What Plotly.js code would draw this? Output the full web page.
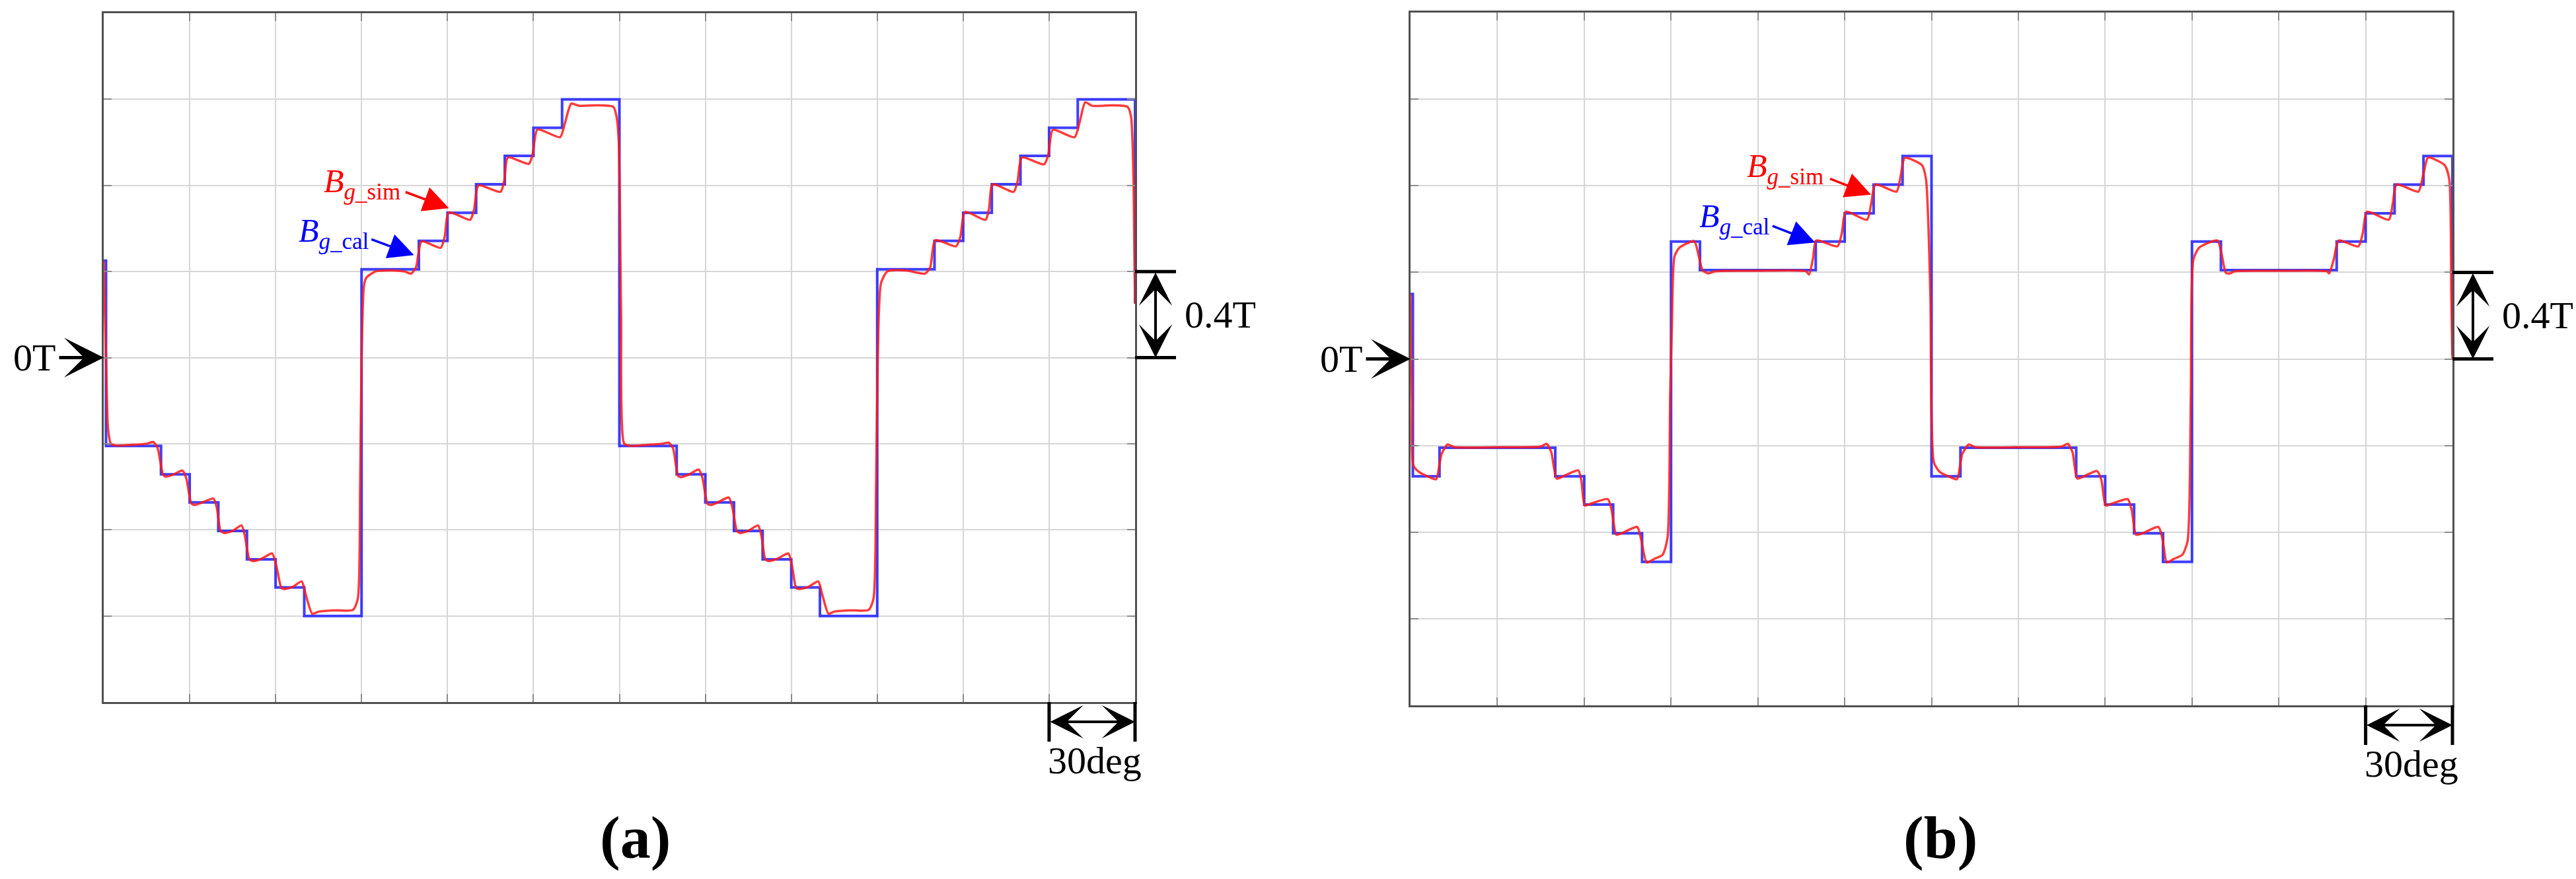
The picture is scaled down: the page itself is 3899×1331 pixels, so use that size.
<!DOCTYPE html>
<html>
<head>
<meta charset="utf-8">
<script src="https://cdn.plot.ly/plotly-3.0.1.min.js"></script>
<style>
body { margin: 0; background: #fff; overflow: hidden; }
#chart { width: 3899px; height: 1331px; }
</style>
</head>
<body>
<div id="chart"></div>
<script>
// (a) calculated air-gap flux density (step levels, drawn as hv steps)
var cal_a_x = [0, 0.8, 20, 30, 40, 50, 60, 70, 90, 110, 120, 130, 140, 150, 160, 180, 200, 210, 220, 230, 240, 250, 270, 290, 300, 310, 320, 330, 340, 360];
var cal_a_y = [0.45, -0.41, -0.542, -0.673, -0.805, -0.937, -1.068, -1.2, 0.41, 0.542, 0.673, 0.805, 0.937, 1.068, 1.2, -0.41, -0.542, -0.673, -0.805, -0.937, -1.068, -1.2, 0.41, 0.542, 0.673, 0.805, 0.937, 1.068, 1.2, 0.25];

// (a) simulated air-gap flux density
var sim_a_x = [0, 0.8, 1.5, 2.5, 4, 10, 15, 17.3, 18.8, 20.6, 21.5, 24, 27.5, 28.8, 30.5, 31.5, 34, 38.3, 39.5, 40.8, 42, 45, 48.1, 49.3, 50.8, 52, 55, 58.8, 60.3, 62, 63, 66, 69.1, 70.5, 72.8, 75, 80, 87, 88.7, 89.5, 90, 90.8, 91.6, 94.8, 100, 105, 107.3, 109, 111, 117.6, 119, 120.5, 127.9, 129.3, 130.8, 138.5, 139.8, 141.1, 148.4, 149.8, 151.4, 159.3, 161, 163.2, 166, 172, 177.9, 179, 179.8, 180.6, 181.7, 184, 190, 195, 197.2, 198.7, 200.5, 201.5, 204, 207.7, 209, 210.8, 212, 214, 218.2, 219.5, 221, 222, 225, 228.4, 229.6, 230.9, 232, 235, 239, 240.3, 241.7, 243, 246, 249.4, 250.8, 253, 255, 260, 267, 268.7, 269.6, 270.2, 271.3, 273.5, 280, 286.7, 288.5, 290.3, 297.5, 299, 300.7, 307.8, 309, 310.3, 317.6, 319, 320.5, 328.3, 329.8, 331.3, 338.9, 340.6, 342.6, 345, 352, 357.4, 358.6, 359.5, 360];
var sim_a_y = [0.45, 0.0, -0.33, -0.40, -0.408, -0.405, -0.400, -0.392, -0.42, -0.54, -0.553, -0.545, -0.525, -0.56, -0.675, -0.685, -0.675, -0.655, -0.70, -0.805, -0.815, -0.805, -0.78, -0.83, -0.935, -0.945, -0.935, -0.91, -0.97, -1.07, -1.075, -1.065, -1.04, -1.10, -1.19, -1.18, -1.174, -1.172, -1.12, -0.6, 0.0, 0.33, 0.37, 0.40, 0.405, 0.40, 0.39, 0.42, 0.54, 0.51, 0.56, 0.675, 0.64, 0.69, 0.80, 0.77, 0.82, 0.93, 0.90, 0.95, 1.06, 1.024, 1.09, 1.18, 1.17, 1.172, 1.165, 1.12, 1.0, 0.2, -0.40, -0.41, -0.405, -0.40, -0.395, -0.42, -0.55, -0.555, -0.545, -0.52, -0.56, -0.68, -0.685, -0.675, -0.65, -0.70, -0.805, -0.815, -0.805, -0.78, -0.83, -0.935, -0.945, -0.935, -0.91, -0.97, -1.07, -1.075, -1.065, -1.04, -1.10, -1.19, -1.18, -1.174, -1.172, -1.12, -0.6, 0.0, 0.345, 0.40, 0.405, 0.39, 0.42, 0.545, 0.517, 0.56, 0.677, 0.64, 0.69, 0.805, 0.77, 0.82, 0.93, 0.898, 0.95, 1.058, 1.024, 1.09, 1.186, 1.17, 1.172, 1.165, 1.12, 0.8, 0.25];

// (b) calculated
var cal_b_x = [0, 0.8, 10, 50, 60, 70, 80, 90, 100, 140, 150, 160, 170, 180, 190, 230, 240, 250, 260, 270, 280, 320, 330, 340, 350, 360];
var cal_b_y = [0.3, -0.542, -0.41, -0.542, -0.673, -0.805, -0.937, 0.542, 0.41, 0.542, 0.673, 0.805, 0.937, -0.542, -0.41, -0.542, -0.673, -0.805, -0.937, 0.542, 0.41, 0.542, 0.673, 0.805, 0.937, 0.02];

// (b) simulated
var sim_b_x = [0, 0.5, 0.9, 2.7, 6.3, 8.8, 10.7, 12.8, 15, 30, 44.9, 47, 48.6, 50.5, 53, 56.5, 58, 59, 60.2, 62, 68.2, 69.5, 71.1, 73, 78.3, 79.6, 81.6, 84, 87.1, 88.8, 89.7, 90.3, 91.2, 92.9, 98, 99.5, 100.9, 102.9, 105.3, 120, 136.6, 137.7, 139, 140.2, 147.5, 149, 150.4, 157.7, 159.2, 160.6, 167.9, 169.4, 170.8, 176.7, 178.1, 179.6, 180.8, 182.7, 186.3, 188.8, 190.6, 192.9, 195, 210, 224.9, 227.1, 228.7, 230.4, 233, 237.2, 238.7, 240.2, 242, 247.8, 249.2, 250.7, 253, 258.4, 259.8, 261.3, 263.5, 266.7, 268.5, 269.6, 270.5, 272.5, 278.8, 280.3, 281.7, 283.1, 284.8, 300, 316.6, 317.4, 319, 320.7, 327.5, 329, 330.5, 338, 339.4, 340.7, 348.2, 349.9, 351.6, 357.3, 358.9, 359.6, 360];
var sim_b_y = [0.3, -0.2, -0.49, -0.52, -0.545, -0.556, -0.44, -0.395, -0.407, -0.408, -0.405, -0.392, -0.43, -0.553, -0.54, -0.52, -0.515, -0.56, -0.677, -0.67, -0.648, -0.70, -0.812, -0.805, -0.776, -0.83, -0.94, -0.925, -0.904, -0.826, -0.17, 0.16, 0.474, 0.514, 0.544, 0.48, 0.41, 0.395, 0.405, 0.407, 0.405, 0.39, 0.46, 0.547, 0.52, 0.58, 0.68, 0.643, 0.72, 0.806, 0.773, 0.85, 0.929, 0.895, 0.83, 0.3, -0.477, -0.52, -0.545, -0.556, -0.44, -0.395, -0.407, -0.408, -0.405, -0.392, -0.43, -0.553, -0.54, -0.518, -0.56, -0.677, -0.67, -0.648, -0.70, -0.812, -0.805, -0.776, -0.83, -0.94, -0.925, -0.904, -0.84, -0.17, 0.46, 0.514, 0.547, 0.48, 0.398, 0.395, 0.405, 0.407, 0.405, 0.395, 0.46, 0.547, 0.52, 0.58, 0.68, 0.643, 0.72, 0.806, 0.773, 0.85, 0.93, 0.895, 0.83, 0.3, 0.0];

var W = 3899, H = 1331;
var x_range = [0, 360], y_range = [-1.6, 1.6];
var dom_a_x = [157 / W, 1718 / W], dom_a_y = [1 - 1063 / H, 1 - 20 / H];
var dom_b_x = [2135 / W, 3712 / W], dom_b_y = [1 - 1068 / H, 1 - 19 / H];

var cal_color = 'rgba(15,15,255,0.8)';
var sim_color = 'rgba(255,25,25,0.85)';
var black = '#000';
var serif = 'Liberation Serif, Times New Roman, serif';

function px(dom, v) { return dom[0] + (v - x_range[0]) / (x_range[1] - x_range[0]) * (dom[1] - dom[0]); }
function py(dom, v) { return dom[0] + (v - y_range[0]) / (y_range[1] - y_range[0]) * (dom[1] - dom[0]); }

function axis(dom, range, dtick, anchor) {
	return {
		domain: dom,
		range: range,
		anchor: anchor,
		dtick: dtick,
		tick0: 0,
		showgrid: true,
		gridcolor: '#d6d6d6',
		gridwidth: 2,
		zeroline: false,
		showline: true,
		linecolor: '#505050',
		linewidth: 3,
		mirror: 'ticks',
		ticks: 'inside',
		ticklen: 12,
		tickwidth: 2,
		tickcolor: '#8c8c8c',
		showticklabels: false,
		fixedrange: true
	};
}

var shapes = [];
var annotations = [];

function decorate(dx, dy, xa, ya, label, label_x, lab) {
	var y0 = py(dy, 0), y4 = py(dy, 0.4);
	// 0.4T bracket
	shapes.push({type: 'line', xref: 'paper', yref: 'paper', x0: dx[1], x1: dx[1] + 62 / W, y0: y4, y1: y4, line: {color: black, width: 5}});
	shapes.push({type: 'line', xref: 'paper', yref: 'paper', x0: dx[1], x1: dx[1] + 62 / W, y0: y0, y1: y0, line: {color: black, width: 5}});
	annotations.push({xref: 'paper', yref: 'paper', x: dx[1] + 31 / W, y: y0, axref: 'pixel', ayref: 'pixel', ax: 0, ay: -(y4 - y0) * H,
		text: '', showarrow: true, arrowhead: 3, startarrowhead: 3, arrowside: 'end+start', arrowsize: 2.1, startarrowsize: 2.1, arrowwidth: 4, arrowcolor: black});
	annotations.push({xref: 'paper', yref: 'paper', x: dx[1] + 129 / W, y: py(dy, 0.2), text: '0.4T', showarrow: false,
		font: {size: 58, color: black, family: serif}, xanchor: 'center', yanchor: 'middle'});

	// 30deg bracket
	var x330 = px(dx, 330), x360 = px(dx, 360);
	shapes.push({type: 'line', xref: 'paper', yref: 'paper', x0: x330, x1: x330, y0: dy[0], y1: dy[0] - 60 / H, line: {color: black, width: 5}});
	shapes.push({type: 'line', xref: 'paper', yref: 'paper', x0: x360, x1: x360, y0: dy[0], y1: dy[0] - 60 / H, line: {color: black, width: 5}});
	annotations.push({xref: 'paper', yref: 'paper', x: x360, y: dy[0] - 30 / H, axref: 'pixel', ayref: 'pixel', ax: -(x360 - x330) * W, ay: 0,
		text: '', showarrow: true, arrowhead: 3, startarrowhead: 3, arrowside: 'end+start', arrowsize: 2.1, startarrowsize: 2.1, arrowwidth: 4, arrowcolor: black});
	annotations.push({xref: 'paper', yref: 'paper', x: px(dx, 345) + 4 / W, y: dy[0] - 88 / H, text: '30deg', showarrow: false,
		font: {size: 58, color: black, family: serif}, xanchor: 'center', yanchor: 'middle'});

	// 0T marker
	annotations.push({xref: 'paper', yref: 'paper', x: dx[0], y: y0, axref: 'pixel', ayref: 'pixel', ax: -69, ay: 0,
		text: '', showarrow: true, arrowhead: 3, arrowsize: 2, arrowwidth: 5, arrowcolor: black});
	annotations.push({xref: 'paper', yref: 'paper', x: dx[0] - 105 / W, y: y0, text: '0T', showarrow: false,
		font: {size: 58, color: black, family: serif}, xanchor: 'center', yanchor: 'middle'});

	// panel label
	annotations.push({xref: 'paper', yref: 'paper', x: label_x / W, y: 1 - 1268 / H, text: '<b>' + label + '</b>', showarrow: false,
		font: {size: 92, color: black, family: serif}, xanchor: 'center', yanchor: 'middle'});

	// curve labels and pointers
	annotations.push({xref: xa, yref: ya, x: lab.sim_text[0], y: lab.sim_text[1], text: '<i>B</i><sub><i>g</i>_sim</sub>', showarrow: false,
		font: {size: 50, color: '#ff0000', family: serif}, xanchor: 'left', yanchor: 'middle'});
	annotations.push({xref: xa, yref: ya, x: lab.cal_text[0], y: lab.cal_text[1], text: '<i>B</i><sub><i>g</i>_cal</sub>', showarrow: false,
		font: {size: 50, color: '#0000ff', family: serif}, xanchor: 'left', yanchor: 'middle'});
	annotations.push({xref: xa, yref: ya, axref: xa, ayref: ya, x: lab.sim_tip[0], y: lab.sim_tip[1], ax: lab.sim_tail[0], ay: lab.sim_tail[1],
		text: '', showarrow: true, arrowhead: 2, arrowsize: 2.2, arrowwidth: 3.5, arrowcolor: '#ff0000'});
	annotations.push({xref: xa, yref: ya, axref: xa, ayref: ya, x: lab.cal_tip[0], y: lab.cal_tip[1], ax: lab.cal_tail[0], ay: lab.cal_tail[1],
		text: '', showarrow: true, arrowhead: 2, arrowsize: 2.2, arrowwidth: 3.5, arrowcolor: '#0000ff'});
}

decorate(dom_a_x, dom_a_y, 'x', 'y', '(a)', 961, {
	sim_text: [76.3, 0.808], cal_text: [67.6, 0.577],
	sim_tip: [120.5, 0.694], sim_tail: [105, 0.771],
	cal_tip: [108.3, 0.476], cal_tail: [93.1, 0.551]
});
decorate(dom_b_x, dom_b_y, 'x2', 'y2', '(b)', 2937, {
	sim_text: [115.7, 0.88], cal_text: [99.3, 0.648],
	sim_tip: [159.1, 0.759], sim_tail: [144.6, 0.834],
	cal_tip: [139.8, 0.538], cal_tail: [124.7, 0.616]
});

var data = [
	{x: cal_a_x, y: cal_a_y, xaxis: 'x', yaxis: 'y', mode: 'lines', name: 'Bg_cal',
		line: {shape: 'hv', color: cal_color, width: 4}},
	{x: sim_a_x, y: sim_a_y, xaxis: 'x', yaxis: 'y', mode: 'lines', name: 'Bg_sim',
		line: {shape: 'spline', smoothing: 0.6, color: sim_color, width: 3.5}},
	{x: cal_b_x, y: cal_b_y, xaxis: 'x2', yaxis: 'y2', mode: 'lines', name: 'Bg_cal',
		line: {shape: 'hv', color: cal_color, width: 4}},
	{x: sim_b_x, y: sim_b_y, xaxis: 'x2', yaxis: 'y2', mode: 'lines', name: 'Bg_sim',
		line: {shape: 'spline', smoothing: 0.6, color: sim_color, width: 3.5}}
];

var layout = {
	width: W,
	height: H,
	margin: {l: 0, r: 0, t: 0, b: 0, pad: 0},
	paper_bgcolor: '#fff',
	plot_bgcolor: '#fff',
	showlegend: false,
	font: {family: serif, color: black},
	xaxis: axis(dom_a_x, x_range, 30, 'y'),
	yaxis: axis(dom_a_y, y_range, 0.4, 'x'),
	xaxis2: axis(dom_b_x, x_range, 30, 'y2'),
	yaxis2: axis(dom_b_y, y_range, 0.4, 'x2'),
	shapes: shapes,
	annotations: annotations
};

Plotly.newPlot('chart', data, layout, {displayModeBar: false, staticPlot: true});
</script>
</body>
</html>
